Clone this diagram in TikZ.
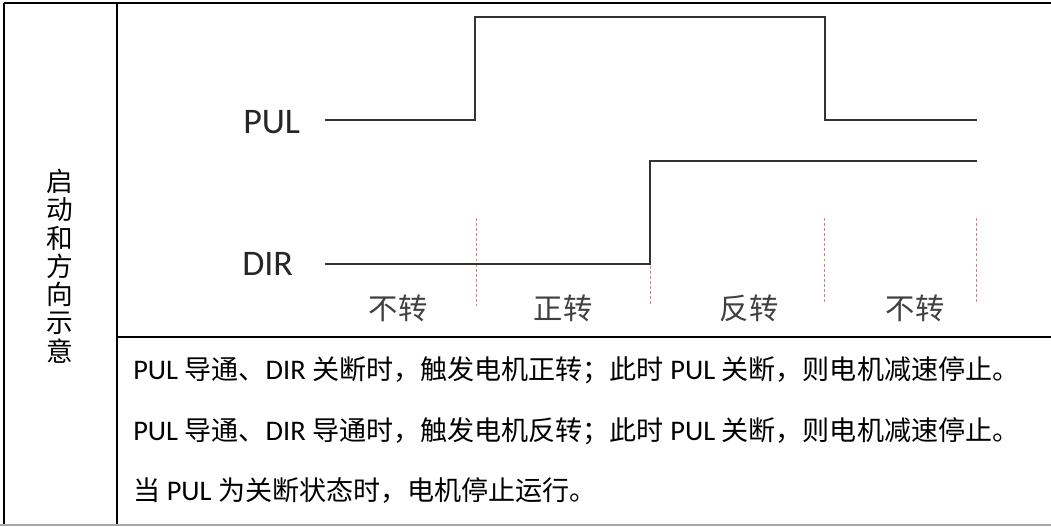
\documentclass[tikz,border=0pt]{standalone}
\usepackage{fontspec}
\setmainfont{Carlito}
\newfontfamily\cjk{Noto Sans CJK SC}
\newcommand{\Zh}[1]{{\cjk\fontsize{20.3}{24}\selectfont #1}}
\definecolor{wave}{HTML}{333333}
\definecolor{mark}{HTML}{D9826F}
\definecolor{botline}{HTML}{A8A8A8}
\tikzset{
  grid/.style={line width=1.2pt, draw=black},
  sig/.style={line width=1.7pt, draw=wave, line join=miter},
  tick/.style={line width=0.6pt, draw=mark, dash pattern=on 2.2pt off 1.6pt},
  siglabel/.style={anchor=base west, inner sep=0pt, font=\fontsize{27}{30}\selectfont, text=black!85},
  phase/.style={inner sep=0pt, font=\cjk\fontsize{22}{24}\selectfont, text=black!75},
  desc/.style={anchor=base west, inner sep=0pt, font=\fontsize{21.3}{24}\selectfont, text=black},
}
\begin{document}
\begin{tikzpicture}[x=0.75pt,y=-0.75pt]
\useasboundingbox (0,0) rectangle (1051,526);
% table
\draw[grid] (4,3) -- (1051,3);
\draw[grid] (4,3) -- (4,524);
\draw[grid] (117,3) -- (117,524);
\draw[grid] (117,337) -- (1051,337);
\draw[line width=1.5pt, draw=botline] (0,524.5) -- (1051,524.5);
% vertical title
\node[align=center, inner sep=0pt, font=\cjk\fontsize{20}{21.2}\selectfont] (title) at (60,266)
  {启\\动\\和\\方\\向\\示\\意};
% signal labels
\node[siglabel] (pul) at (243,133) {PUL};
\node[siglabel] (dir) at (242,275) {DIR};
% waveform corner coordinates
\coordinate (p0) at (325,120);
\coordinate (p1) at (475,120);
\coordinate (p2) at (475,17);
\coordinate (p3) at (825,17);
\coordinate (p4) at (825,120);
\coordinate (p5) at (977,120);
\coordinate (d0) at (325,264);
\coordinate (d1) at (650,264);
\coordinate (d2) at (650,161);
\coordinate (d3) at (977,161);
% dashed phase markers
\coordinate (t1a) at (476,218); \coordinate (t1b) at (476,306);
\coordinate (t2a) at (650,266); \coordinate (t2b) at (650,305);
\coordinate (t3a) at (824,218); \coordinate (t3b) at (824,304);
\coordinate (t4a) at (976,218); \coordinate (t4b) at (976,304);
\draw[tick] (t1a) -- (t1b);
\draw[tick] (t2a) -- (t2b);
\draw[tick] (t3a) -- (t3b);
\draw[tick] (t4a) -- (t4b);
\draw[sig] (p0) -- (p1) -- (p2) -- (p3) -- (p4) -- (p5);
\draw[sig] (d0) -- (d1) -- (d2) -- (d3);
% phase labels
\node[phase] (ph1) at (398,308) {不转};
\node[phase] (ph2) at (563,308) {正转};
\node[phase] (ph3) at (749,308) {反转};
\node[phase] (ph4) at (915,308) {不转};
% description lines
\node[desc] (l1) at (133,379) {PUL \Zh{导通、}DIR \Zh{关断时，触发电机正转；此时} PUL \Zh{关断，则电机减速停止。}};
\node[desc] (l2) at (133,440) {PUL \Zh{导通、}DIR \Zh{导通时，触发电机反转；此时} PUL \Zh{关断，则电机减速停止。}};
\node[desc] (l3) at (133,500) {\Zh{当} PUL \Zh{为关断状态时，电机停止运行。}};
\end{tikzpicture}
\end{document}
